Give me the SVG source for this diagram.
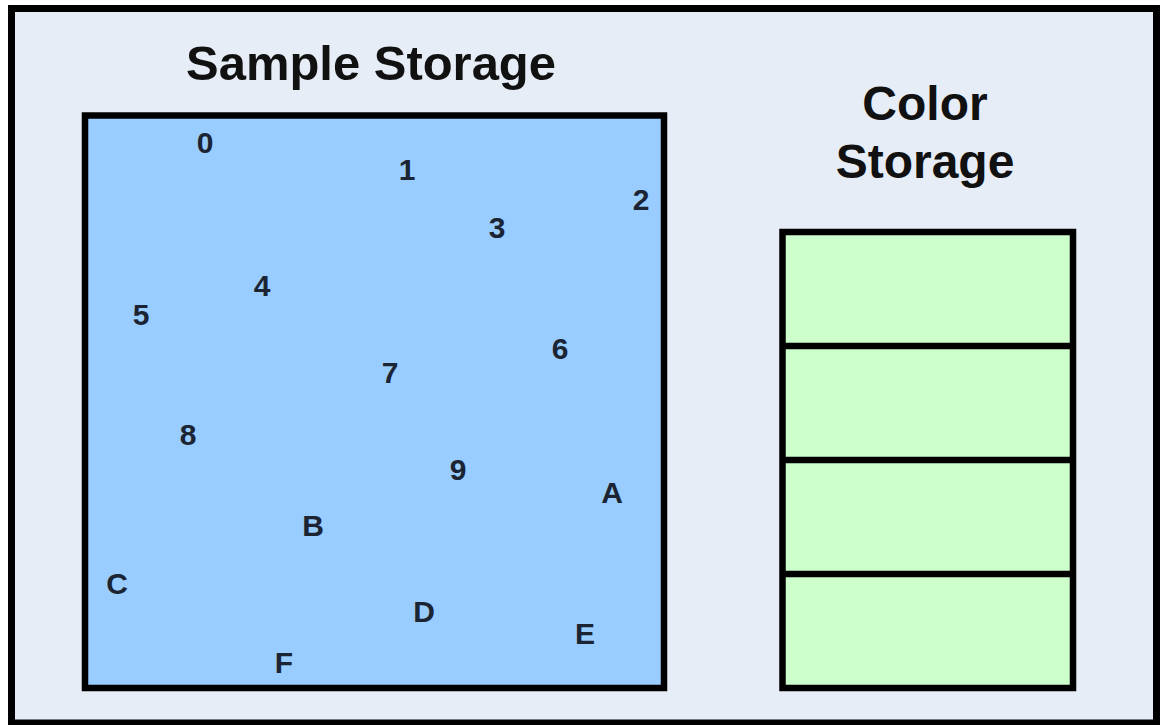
<svg xmlns="http://www.w3.org/2000/svg" width="1160" height="725" viewBox="0 0 1160 725">
<style>
.title{font-family:"Liberation Sans",Arial,sans-serif;font-weight:bold;font-size:48px;fill:#111;text-anchor:middle}
.lbl{font-family:"Liberation Sans",Arial,sans-serif;font-weight:bold;font-size:30px;fill:#1b2433;text-anchor:middle}
.frame{stroke:#000;stroke-width:6.5}
</style>
<rect x="0" y="0" width="1160" height="725" fill="#fff"/>
<rect x="11.5" y="8.5" width="1145" height="714.5" fill="#E6EDF7" stroke="#000" stroke-width="7"/>
<g id="sample-storage">
<text class="title" x="371" y="80" textLength="370" lengthAdjust="spacingAndGlyphs">Sample Storage</text>
<rect class="frame" x="85" y="115.5" width="579" height="572.5" fill="#99CCFF"/>
<text class="lbl" x="205" y="153">0</text>
<text class="lbl" x="407" y="180">1</text>
<text class="lbl" x="641" y="210">2</text>
<text class="lbl" x="497" y="238">3</text>
<text class="lbl" x="262" y="296">4</text>
<text class="lbl" x="141" y="325">5</text>
<text class="lbl" x="560" y="359">6</text>
<text class="lbl" x="390" y="383">7</text>
<text class="lbl" x="188" y="445">8</text>
<text class="lbl" x="458" y="480">9</text>
<text class="lbl" x="612" y="503">A</text>
<text class="lbl" x="313" y="536">B</text>
<text class="lbl" x="117" y="594">C</text>
<text class="lbl" x="424" y="622">D</text>
<text class="lbl" x="585" y="644">E</text>
<text class="lbl" x="284" y="673">F</text>
</g>
<g id="color-storage">
<text class="title" x="925" y="120">Color</text>
<text class="title" x="925" y="178">Storage</text>
<rect class="frame" x="782.5" y="232" width="290.5" height="456" fill="#CCFFCC"/>
<line class="frame" x1="782.5" y1="346" x2="1073" y2="346"/>
<line class="frame" x1="782.5" y1="460" x2="1073" y2="460"/>
<line class="frame" x1="782.5" y1="574" x2="1073" y2="574"/>
</g>
<g id="connectors"></g>
</svg>
